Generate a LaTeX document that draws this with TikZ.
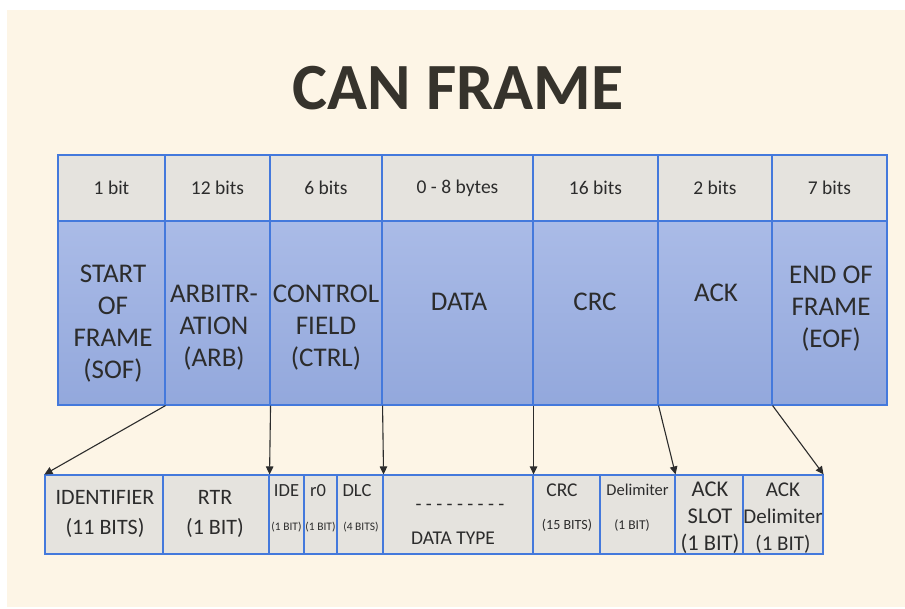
\documentclass[tikz,border=0pt]{standalone}
\usepackage{fontspec}
\setmainfont{Carlito}
\usetikzlibrary{arrows.meta}

\definecolor{paper}{HTML}{FDF5E6}
\definecolor{edgeblue}{HTML}{4479DC}
\definecolor{cellgray}{HTML}{E5E3DE}
\definecolor{bluetop}{HTML}{AABBE7}
\definecolor{bluebot}{HTML}{93A8DC}
\definecolor{ink}{HTML}{2C2C2C}
\definecolor{titleink}{HTML}{36332C}

\tikzset{
  cell/.style={draw=edgeblue, line width=1.1pt, inner sep=0pt, text=ink},
  sizecell/.style={cell, fill=cellgray, minimum height=66pt, font=\fontsize{19.5}{23}\selectfont},
  namecell/.style={cell, top color=bluetop, bottom color=bluebot, minimum height=184pt},
  namelbl/.style={align=center, text=ink, inner sep=0pt, font=\fontsize{27}{32}\selectfont},
  subcell/.style={cell, fill=cellgray, minimum height=79pt},
  sublbl/.style={align=center, text=ink, inner sep=0pt},
  link/.style={draw=ink, line width=1.1pt, -{Triangle[length=8pt,width=7.5pt]}},
}

\begin{document}
\begin{tikzpicture}[x=1pt,y=-1pt]
		\useasboundingbox (0,0) rectangle (905,609);
		\fill[white] (0,0) rectangle (905,609);
		\fill[paper] (7,10) rectangle (905,607);						% Fundo

		% Titulo
		\node[anchor=base, text=titleink, font=\fontsize{66}{70}\selectfont\bfseries] (title) at (458,110) {CAN FRAME};

		% Tamanhos
		\node[sizecell, minimum width=107pt] (ssof)  at (111.5,188) {1 bit};
		\node[sizecell, minimum width=105pt] (sarb)  at (217.5,188) {12 bits};
		\node[sizecell, minimum width=112pt] (sctrl) at (326,188)   {6 bits};
		\node[sizecell, minimum width=151pt] (sdata) at (457.5,188) {0 - 8 bytes};
		\node[sizecell, minimum width=125pt] (scrc)  at (595.5,188) {16 bits};
		\node[sizecell, minimum width=114pt] (sack)  at (715,188)   {2 bits};
		\node[sizecell, minimum width=115pt] (seof)  at (829.5,188) {7 bits};

		% Campos
		\node[namecell, minimum width=107pt] (sof)  at (111.5,313) {};
		\node[namecell, minimum width=105pt] (arb)  at (217.5,313) {};
		\node[namecell, minimum width=112pt] (ctrl) at (326,313)   {};
		\node[namecell, minimum width=151pt] (data) at (457.5,313) {};
		\node[namecell, minimum width=125pt] (crc)  at (595.5,313) {};
		\node[namecell, minimum width=114pt] (ack)  at (715,313)   {};
		\node[namecell, minimum width=115pt] (eof)  at (829.5,313) {};

		\node[namelbl] (lsof)  at (113,324) {START\\OF\\FRAME\\(SOF)};
		\node[namelbl] (larb)  at (214,328) {ARBITR-\\ATION\\(ARB)};
		\node[namelbl] (lctrl) at (326,328) {CONTROL\\FIELD\\(CTRL)};
		\node[namelbl] (ldata) at (459,302) {DATA};
		\node[namelbl] (lcrc)  at (595,302) {CRC};
		\node[namelbl] (lack)  at (716,293) {ACK};
		\node[namelbl] (leof)  at (831,309) {END OF\\FRAME\\(EOF)};

		% Subcampos
		\node[subcell, minimum width=118pt] (id)     at (104,514.5)   {};
		\node[subcell, minimum width=106pt] (rtr)    at (216,514.5)   {};
		\node[subcell, minimum width=35pt]  (ide)    at (286.5,514.5) {};
		\node[subcell, minimum width=33pt]  (rzero)  at (320.5,514.5) {};
		\node[subcell, minimum width=46pt]  (dlc)    at (360,514.5)   {};
		\node[subcell, minimum width=150pt] (dtype)  at (458,514.5)   {};
		\node[subcell, minimum width=67pt]  (crcseq) at (566.5,514.5) {};
		\node[subcell, minimum width=75pt]  (delim)  at (637.5,514.5) {};
		\node[subcell, minimum width=68pt]  (slot)   at (709,514.5)   {};
		\node[subcell, minimum width=80pt]  (ackdel) at (783,514.5)   {};

		\node[sublbl, font=\fontsize{22}{30}\selectfont] (lid)  at (105,514) {IDENTIFIER\\(11 BITS)};
		\node[sublbl, font=\fontsize{22}{30}\selectfont] (lrtr) at (215,514) {RTR\\(1 BIT)};
		\node[sublbl, font=\fontsize{18.5}{22}\selectfont] (lide)  at (286.5,491) {IDE};
		\node[sublbl, font=\fontsize{11.5}{14}\selectfont] (bide)  at (286.5,527) {(1 BIT)};
		\node[sublbl, font=\fontsize{18.5}{22}\selectfont] (lrzero) at (318,491) {r0};
		\node[sublbl, font=\fontsize{11.5}{14}\selectfont] (brzero) at (320.5,527) {(1 BIT)};
		\node[sublbl, font=\fontsize{18.5}{22}\selectfont] (ldlc)  at (357,491) {DLC};
		\node[sublbl, font=\fontsize{11.5}{14}\selectfont] (bdlc)  at (361,527) {(4 BITS)};
		\node[sublbl, font=\fontsize{19.5}{23}\selectfont] (dashes) at (460,507) {- - - - - - - - -};
		\node[sublbl, font=\fontsize{19.5}{23}\selectfont] (ldtype) at (453,538) {DATA TYPE};
		\node[sublbl, font=\fontsize{19.5}{23}\selectfont] (lcrcseq) at (562,490) {CRC};
		\node[sublbl, font=\fontsize{14}{17}\selectfont]   (bcrcseq) at (567,525) {(15 BITS)};
		\node[sublbl, font=\fontsize{16.5}{20}\selectfont] (ldelim) at (637.5,490) {Delimiter};
		\node[sublbl, font=\fontsize{13.5}{16}\selectfont] (bdelim) at (632,525) {(1 BIT)};
		\node[sublbl, font=\fontsize{22.5}{27}\selectfont] (lslot)   at (710,518) {ACK\\SLOT\\(1 BIT)};
		\node[sublbl, font=\fontsize{21}{27}\selectfont]   (lackdel) at (783,518) {ACK\\Delimiter\\(1 BIT)};

		% Setas
		\draw[link] (sof.south east)  -- (id.north west);
		\draw[link] (arb.south east)  -- (rtr.north east);
		\draw[link] (ctrl.south east) -- (dlc.north east);
		\draw[link] (data.south east) -- (dtype.north east);
		\draw[link] (crc.south east)  -- (delim.north east);
		\draw[link] (ack.south east)  -- (ackdel.north east);
\end{tikzpicture}
\end{document}
